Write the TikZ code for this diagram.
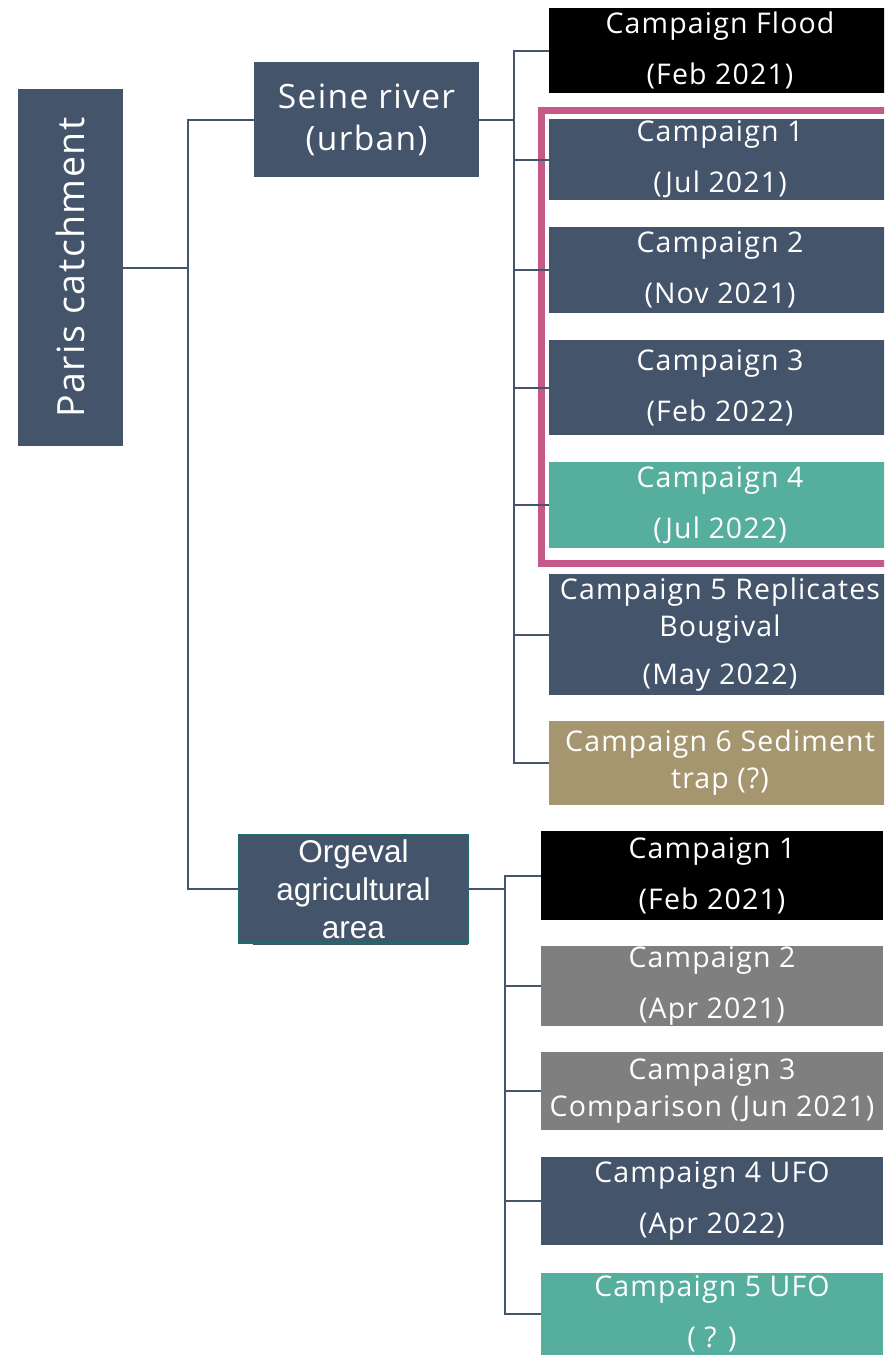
\documentclass[tikz,border=0pt]{standalone}
\usepackage{fontspec}
\setmainfont[LetterSpace=4]{Open Sans}
\newfontfamily\arialf{Liberation Sans}
\definecolor{slate}{HTML}{44546A}
\definecolor{tealbox}{HTML}{56AE9E}
\definecolor{tanbox}{HTML}{A69670}
\definecolor{graybox}{HTML}{7F7F7F}
\definecolor{pinkframe}{HTML}{C55A8A}
\definecolor{tealedge}{HTML}{1E6B6E}
\begin{document}
\begin{tikzpicture}[x=1pt,y=-1pt,
  box/.style={anchor=north west, inner sep=0pt, outer sep=0pt, align=center, text=white,
    font=\fontsize{28.5}{37}\selectfont, minimum width=342pt},
  link/.style={draw=slate, line width=2pt}]
\useasboundingbox (0,0) rectangle (884,1355);
\clip (0,0) rectangle (884,1355);

% level 0 and 1
\node[fill=slate, text=white, inner sep=0pt, minimum width=357pt, minimum height=105pt,
  rotate=90, font=\fontsize{37.5}{40}\selectfont] (paris) at (70.5,267.5) {Paris catchment};
\node[box, fill=slate, minimum width=225pt, minimum height=115pt,
  font=\fontsize{33.5}{42}\selectfont] (seine) at (254,62) {Seine river\\(urban)};
\fill[slate] (253,840) rectangle (468,945);
\node[box, fill=slate, draw=tealedge, line width=2pt, minimum width=229pt, minimum height=108pt,
  font=\arialf\fontsize{31.5}{38}\selectfont] (orgeval) at (239,835) {Orgeval\\agricultural\\area};

% Seine children
\node[box, fill=black, minimum height=85pt] (sf) at (549,8) {Campaign Flood\\[14pt](Feb 2021)};
\node[box, fill=slate, minimum height=81pt] (s1) at (549,119) {Campaign 1\\[14pt](Jul 2021)};
\node[box, fill=slate, minimum height=86pt] (s2) at (549,227) {Campaign 2\\[14pt](Nov 2021)};
\node[box, fill=slate, minimum height=95pt] (s3) at (549,340) {Campaign 3\\[14pt](Feb 2022)};
\node[box, fill=tealbox, minimum height=86pt] (s4) at (549,462) {Campaign 4\\[14pt](Jul 2022)};
\node[box, fill=slate, minimum height=121pt] (s5) at (549,574) {Campaign 5 Replicates\\Bougival\\[11pt](May 2022)};
\node[box, fill=tanbox, minimum height=84pt] (s6) at (549,721) {Campaign 6 Sediment\\trap (?)};

% Orgeval children
\node[box, fill=black, minimum height=89pt] (o1) at (541,831) {Campaign 1\\[14pt](Feb 2021)};
\node[box, fill=graybox, minimum height=80pt] (o2) at (541,946) {Campaign 2\\[14pt](Apr 2021)};
\node[box, fill=graybox, minimum height=78pt] (o3) at (541,1052) {Campaign 3\\Comparison (Jun 2021)};
\node[box, fill=slate, minimum height=88pt] (o4) at (541,1157) {Campaign 4 UFO\\[14pt](Apr 2022)};
\node[box, fill=tealbox, minimum height=82pt] (o5) at (541,1273) {Campaign 5 UFO\\[14pt]( ? )};

% highlight frame
\draw[pinkframe, line width=7pt] (541.5,110.5) rectangle (900,563.5);

% connectors
\coordinate (j1) at (188,267.5);
\coordinate (j2) at (514,119.5);
\coordinate (j3) at (505,889);
\draw[link] (paris.south) -- (j1);
\draw[link] (j1) |- (seine.west);
\draw[link] (j1) |- (orgeval.west);
\draw[link] (seine.east) -- (j2);
\foreach \c in {sf,s1,s2,s3,s4,s5,s6} \draw[link] (j2) |- (\c.west);
\draw[link] (orgeval.east) -- (j3);
\foreach \c in {o1,o2,o3,o4,o5} \draw[link] (j3) |- (\c.west);
\end{tikzpicture}
\end{document}
